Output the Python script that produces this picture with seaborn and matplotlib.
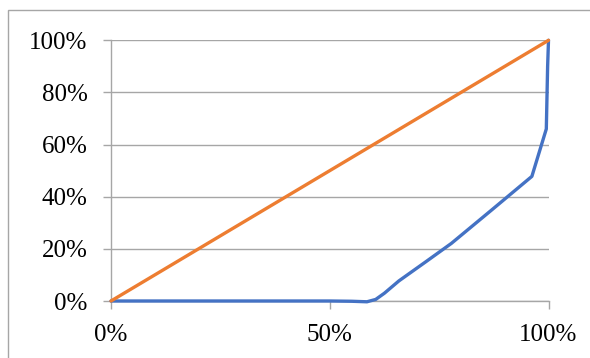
import matplotlib
matplotlib.use("Agg")
import matplotlib.pyplot as plt
import seaborn as sns
import pandas as pd
from matplotlib.patches import Rectangle
from matplotlib.ticker import FixedLocator, FuncFormatter

# Data (cumulative share)
curve_x = [0.0, 0.50, 0.55, 0.585, 0.605, 0.625, 0.658, 0.72, 0.778, 0.87, 0.962, 0.995, 0.998, 1.0]
curve_y = [0.0, 0.0, -0.001, -0.003, 0.006, 0.03, 0.077, 0.151, 0.221, 0.349, 0.478, 0.66, 0.90, 1.0]
equal_x = [0.0, 1.0]
equal_y = [0.0, 1.0]
x_ticks = [0.0, 0.5, 1.0]
y_ticks = [0.0, 0.2, 0.4, 0.6, 0.8, 1.0]

sns.set_theme(style="white")
plt.rcParams["font.family"] = ["Liberation Serif", "DejaVu Serif"]

fig = plt.figure(figsize=(5.9, 3.58), dpi=100)
ax = fig.add_axes([111 / 590, 1 - 301 / 358, (548.5 - 111) / 590, (301 - 40.3) / 358])

df_curve = pd.DataFrame({"x": curve_x, "y": curve_y})
df_eq = pd.DataFrame({"x": equal_x, "y": equal_y})

sns.lineplot(data=df_curve, x="x", y="y", ax=ax, sort=False, estimator=None,
             color="#4472C4", linewidth=2.4, clip_on=False, zorder=3)
sns.lineplot(data=df_eq, x="x", y="y", ax=ax, sort=False, estimator=None,
             color="#ED7D31", linewidth=2.4, clip_on=False, zorder=4)

ax.set_xlim(0, 1)
ax.set_ylim(0, 1)
ax.xaxis.set_major_locator(FixedLocator(x_ticks))
ax.yaxis.set_major_locator(FixedLocator(y_ticks))
pct = FuncFormatter(lambda v, p: f"{v * 100:.0f}%")
ax.xaxis.set_major_formatter(pct)
ax.yaxis.set_major_formatter(pct)
ax.set_xlabel("")
ax.set_ylabel("")

grid_c = "#A6A6A6"
ax.yaxis.grid(True, color=grid_c, linewidth=1.0)
ax.xaxis.grid(False)
ax.set_axisbelow(True)
for side in ["top", "right"]:
    ax.spines[side].set_visible(False)
for side in ["left", "bottom"]:
    ax.spines[side].set_color(grid_c)
    ax.spines[side].set_linewidth(1.0)

ax.tick_params(axis="x", which="major", direction="out", length=5.8, width=1.0,
               color=grid_c, labelsize=18, pad=10.5, labelcolor="black", bottom=True)
ax.tick_params(axis="y", which="major", direction="out", length=5.8, width=1.0,
               color=grid_c, labelsize=18, pad=11, labelcolor="black", left=True)

# Chart-area border (partially cropped at right/bottom)
fig.patches.append(Rectangle((8.3 / 590, -0.2), 1.2, (1 - 10.3 / 358) + 0.2,
                             transform=fig.transFigure, fill=False,
                             edgecolor="#A6A6A6", linewidth=1.0, zorder=0))

fig.savefig("out.png", dpi=100)
